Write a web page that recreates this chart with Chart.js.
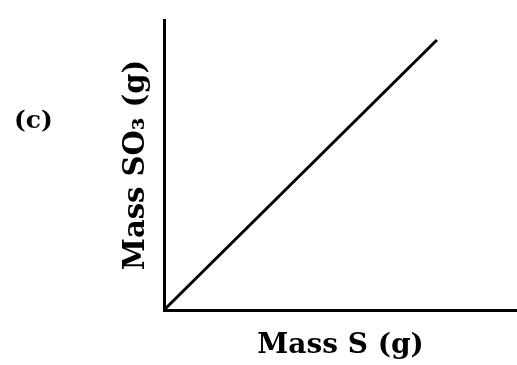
<!DOCTYPE html>
<html>
<head>
<meta charset="utf-8">
<script src="https://cdn.jsdelivr.net/npm/chart.js@4/dist/chart.umd.min.js"></script>
<style>
  html, body { margin: 0; padding: 0; background: #fff; }
  #wrap { position: relative; width: 517px; height: 365px; }
  #lbl { position: absolute; left: 14px; top: 105px; font: bold 25px "DejaVu Serif", serif; color: #000; }
</style>
</head>
<body>
<div id="wrap">
  <canvas id="c" width="517" height="365"></canvas>
  <div id="lbl">(c)</div>
</div>
<script>
const massS = [0, 7.73];
const massSO3 = [0, 9.31];
const xTitle = "Mass S (g)";
const yTitle = "Mass SO\u2083 (g)";

const titleFont = { family: '"DejaVu Serif", serif', weight: 'bold', size: 28 };
const yTitleFont = { family: '"DejaVu Serif", serif', weight: 'bold', size: 29 };

new Chart(document.getElementById('c'), {
  type: 'scatter',
  data: {
    datasets: [{
      data: massS.map((x, i) => ({ x: x, y: massSO3[i] })),
      showLine: true,
      borderColor: '#000',
      borderWidth: 3,
      pointRadius: 0,
      clip: false
    }]
  },
  options: {
    responsive: false,
    animation: false,
    layout: { padding: { left: 115, top: 20, right: 0, bottom: 0 } },
    plugins: { legend: { display: false }, tooltip: { enabled: false } },
    scales: {
      x: {
        type: 'linear', min: 0, max: 10,
        grid: { display: false },
        border: { display: true, color: '#000', width: 3 },
        ticks: { display: false },
        title: { display: true, text: xTitle, color: '#000', font: titleFont, padding: { top: 0, bottom: 2 } },
        afterFit: s => { s.height = 55; }
      },
      y: {
        type: 'linear', min: 0, max: 10,
        grid: { display: false },
        border: { display: true, color: '#000', width: 3 },
        ticks: { display: false },
        title: { display: true, text: yTitle, color: '#000', font: yTitleFont, padding: { top: 4, bottom: 0 } },
        afterFit: s => { s.width = 49; }
      }
    }
  }
});
</script>
</body>
</html>
